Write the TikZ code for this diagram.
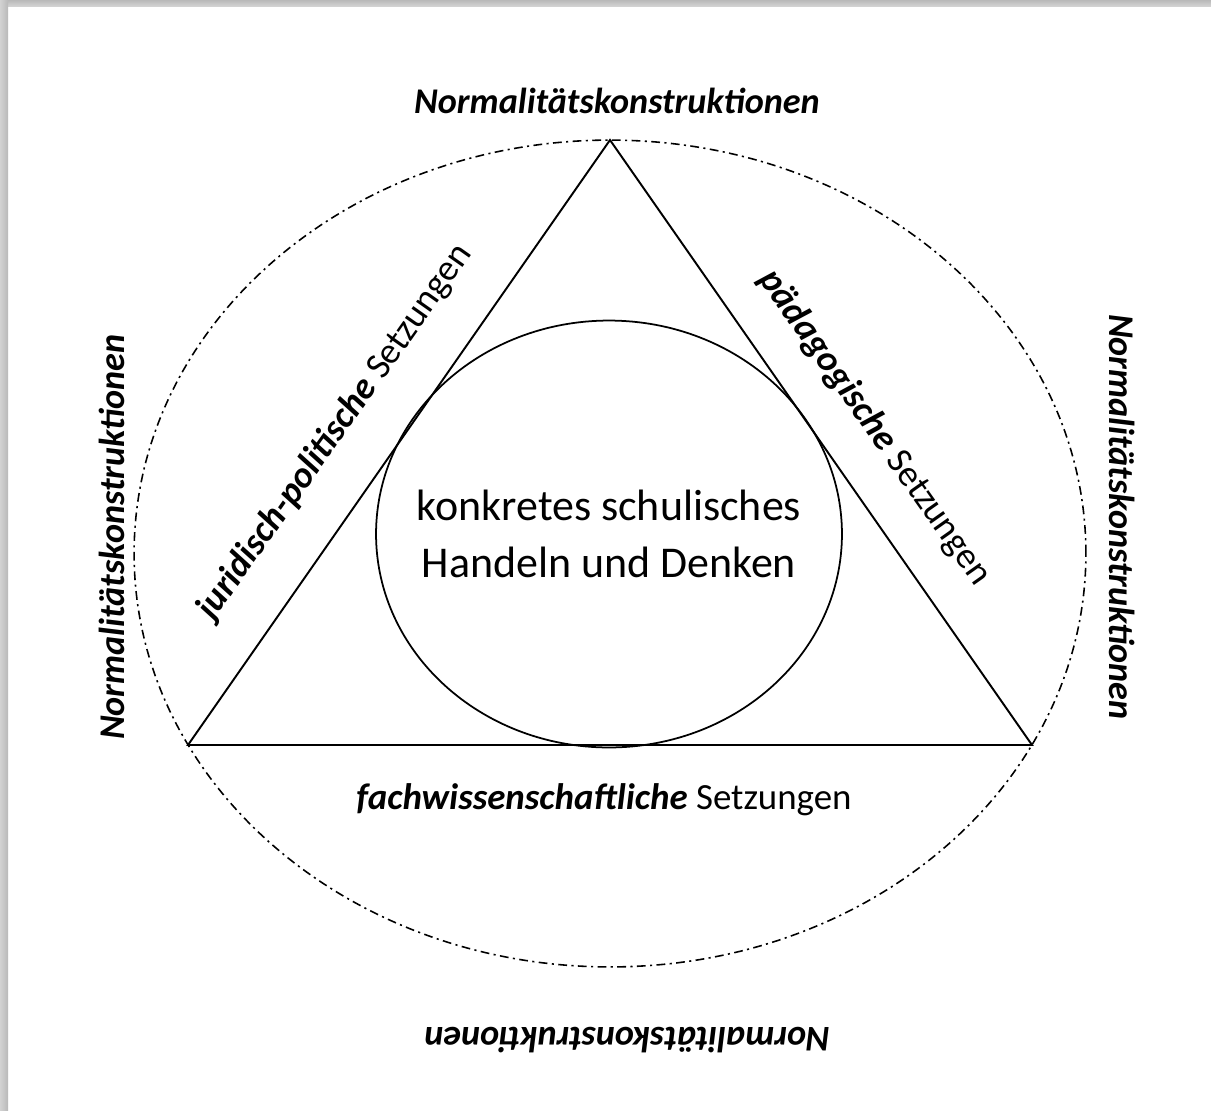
\documentclass[tikz,border=0pt]{standalone}
\usepackage{fontspec}
\setmainfont{Carlito}
\usetikzlibrary{shapes.geometric}
\tikzset{
  frameline/.style={line width=1.1pt, black, line join=miter},
  dashdotline/.style={line width=0.9pt, black, dash pattern=on 5pt off 2.5pt on 1.2pt off 2.5pt},
  normlabel/.style={font=\fontsize{20.6}{24}\selectfont\bfseries\itshape, inner sep=0pt},
  sidelabel/.style={font=\fontsize{21}{24}\selectfont, inner sep=0pt},
  corelabel/.style={font=\fontsize{25}{32}\selectfont, align=center, inner sep=0pt}
}
\begin{document}
\begin{tikzpicture}[x=0.02cm, y=-0.02cm]
\useasboundingbox (0,0) rectangle (1211,1110);
\fill[white] (0,0) rectangle (1211,1110);
% page shadow
\shade[top color=gray!55, bottom color=gray!35] (0,0) rectangle (1211,6);
\shade[left color=gray!35, right color=gray!55] (0,0) rectangle (8,1110);
% outer dash-dot ellipse
\draw[dashdotline] (610,553.5) ellipse [x radius=9.52cm, y radius=8.27cm];
% triangle
\coordinate (apex) at (610,140);
\coordinate (bl) at (188,745);
\coordinate (br) at (1032,745);
\draw[frameline] (apex) -- (br) -- (bl) -- cycle;
% inner ellipse with text
\node[ellipse, draw, line width=1pt, minimum width=9.32cm, minimum height=8.54cm, inner sep=0pt] (core) at (609,534) {};
\node[corelabel] (coretext) at (core.center) {konkretes schulisches\\Handeln und Denken};
% side labels
\node[sidelabel, rotate=54.8] (jur) at (335,432) {\textbf{\textit{juridisch-politische}} Setzungen};
\node[sidelabel, rotate=-54.8] (paed) at (875,428) {\textbf{\textit{pädagogische}} Setzungen};
\node[sidelabel] (fach) at (604,800) {\textbf{\textit{fachwissenschaftliche}} Setzungen};
% outer labels
\node[normlabel] (ntop) at (617,101) {Normalitätskonstruktionen};
\node[normlabel, rotate=90] (nleft) at (112,537) {Normalitätskonstruktionen};
\node[normlabel, rotate=-90] (nright) at (1122,517) {Normalitätskonstruktionen};
\node[normlabel, rotate=180] (nbottom) at (627,1040) {Normalitätskonstruktionen};
\end{tikzpicture}
\end{document}
